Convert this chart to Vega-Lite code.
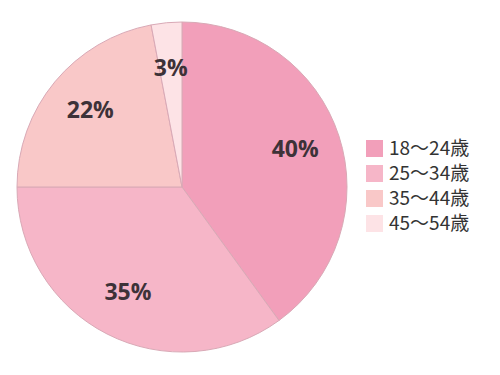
{
  "$schema": "https://vega.github.io/schema/vega-lite/v6.json",
  "width": 330,
  "height": 330,
  "padding": {"left": 17, "top": 22, "right": 153, "bottom": 23},
  "autosize": {"type": "none"},
  "background": "white",
  "config": {"view": {"stroke": null}},
  "data": {
    "values": [
      {"age": "18〜24歳", "pct": 40, "ord": 1},
      {"age": "25〜34歳", "pct": 35, "ord": 2},
      {"age": "35〜44歳", "pct": 22, "ord": 3},
      {"age": "45〜54歳", "pct": 3, "ord": 4}
    ]
  },
  "encoding": {
    "theta": {"field": "pct", "type": "quantitative", "stack": true},
    "order": {"field": "ord", "type": "quantitative"}
  },
  "layer": [
    {
      "mark": {"type": "arc", "outerRadius": 165, "stroke": "#d9a9b6", "strokeWidth": 1},
      "encoding": {
        "color": {
          "field": "age",
          "type": "nominal",
          "sort": ["18〜24歳", "25〜34歳", "35〜44歳", "45〜54歳"],
          "scale": {
            "domain": ["18〜24歳", "25〜34歳", "35〜44歳", "45〜54歳"],
            "range": ["#f29fba", "#f6b6c8", "#f9c8c8", "#fde3e6"]
          },
          "legend": {
            "title": null,
            "orient": "none",
            "legendX": 348,
            "legendY": 117,
            "padding": 0,
            "symbolType": "square",
            "symbolSize": 289,
            "symbolStrokeWidth": 0,
            "labelFont": "Noto Sans CJK JP",
            "labelFontSize": 19,
            "labelColor": "#333333",
            "labelOffset": 5,
            "labelLimit": 200,
            "rowPadding": 5
          }
        }
      }
    },
    {
      "mark": {"type": "text", "radius": 119, "font": "Open Sans", "fontSize": 23, "fontWeight": "bold", "fill": "#3d3238"},
      "encoding": {
        "text": {"field": "label", "type": "nominal"}
      },
      "transform": [{"calculate": "datum.pct + '%'", "as": "label"}]
    }
  ]
}
